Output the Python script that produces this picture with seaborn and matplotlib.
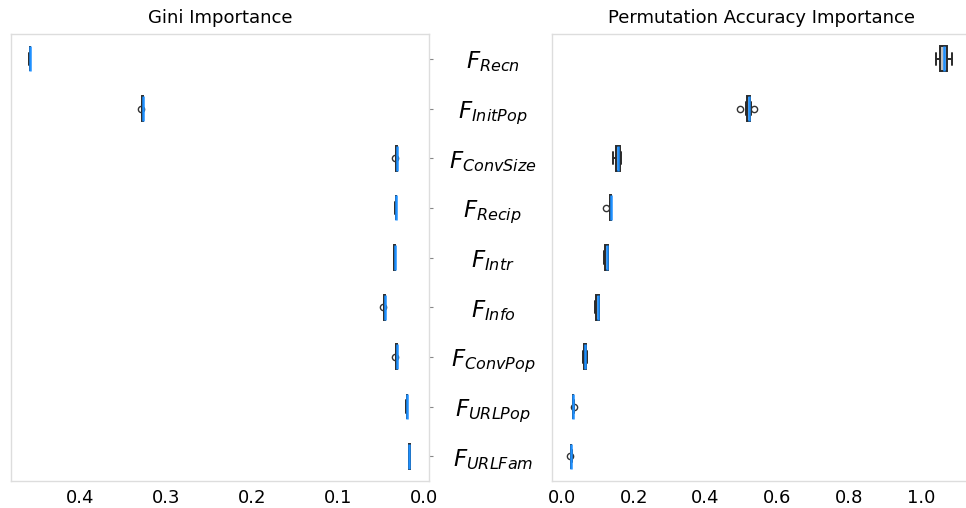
import pandas as pd
import matplotlib
matplotlib.use('Agg')
import matplotlib.pyplot as plt
import seaborn as sns

# признаки (сверху вниз)
features = ['Recn', 'InitPop', 'ConvSize', 'Recip', 'Intr', 'Info', 'ConvPop', 'URLPop', 'URLFam']
labels = [r'$F_{%s}$' % f for f in features]

# Gini importance, повторные прогоны
gini_recn = [0.4576, 0.4578, 0.4580, 0.4581, 0.4582, 0.4583, 0.4584, 0.4585, 0.4587, 0.4589]
gini_initpop = [0.3264, 0.3266, 0.3268, 0.3269, 0.3270, 0.3270, 0.3271, 0.3272, 0.3273, 0.3284]
gini_convsize = [0.0310, 0.0312, 0.0314, 0.0315, 0.0316, 0.0317, 0.0318, 0.0319, 0.0320, 0.0330]
gini_recip = [0.0322, 0.0323, 0.0324, 0.0325, 0.0326, 0.0326, 0.0327, 0.0328, 0.0329, 0.0330]
gini_intr = [0.0336, 0.0337, 0.0338, 0.0339, 0.0340, 0.0340, 0.0341, 0.0342, 0.0343, 0.0344]
gini_info = [0.0450, 0.0452, 0.0454, 0.0455, 0.0456, 0.0457, 0.0458, 0.0459, 0.0460, 0.0472]
gini_convpop = [0.0310, 0.0312, 0.0314, 0.0315, 0.0316, 0.0317, 0.0318, 0.0319, 0.0320, 0.0330]
gini_urlpop = [0.0194, 0.0195, 0.0196, 0.0197, 0.0198, 0.0198, 0.0199, 0.0200, 0.0201, 0.0202]
gini_urlfam = [0.0163, 0.0164, 0.0165, 0.0166, 0.0167, 0.0167, 0.0168, 0.0169, 0.0170, 0.0171]

# Permutation accuracy importance
perm_recn = [1.041, 1.045, 1.048, 1.058, 1.062, 1.066, 1.070, 1.073, 1.076, 1.085]
perm_initpop = [0.497, 0.513, 0.515, 0.518, 0.519, 0.521, 0.522, 0.523, 0.525, 0.534]
perm_convsize = [0.143, 0.148, 0.151, 0.153, 0.156, 0.158, 0.161, 0.163, 0.165, 0.166]
perm_recip = [0.124, 0.134, 0.135, 0.135, 0.136, 0.136, 0.137, 0.137, 0.138, 0.138]
perm_intr = [0.118, 0.120, 0.121, 0.123, 0.126, 0.127, 0.127, 0.128, 0.128, 0.129]
perm_info = [0.093, 0.095, 0.096, 0.098, 0.099, 0.101, 0.102, 0.103, 0.104, 0.105]
perm_convpop = [0.059, 0.060, 0.061, 0.063, 0.064, 0.065, 0.066, 0.067, 0.068, 0.069]
perm_urlpop = [0.0318, 0.0320, 0.0322, 0.0323, 0.0324, 0.0325, 0.0326, 0.0327, 0.0328, 0.0345]
perm_urlfam = [0.0240, 0.0265, 0.0267, 0.0268, 0.0269, 0.0270, 0.0271, 0.0272, 0.0273, 0.0275]

gini = [gini_recn, gini_initpop, gini_convsize, gini_recip, gini_intr,
        gini_info, gini_convpop, gini_urlpop, gini_urlfam]
perm = [perm_recn, perm_initpop, perm_convsize, perm_recip, perm_intr,
        perm_info, perm_convpop, perm_urlpop, perm_urlfam]


def to_long(groups):
    rows = []
    for lab, vals in zip(labels, groups):
        for v in vals:
            rows.append({'feature': lab, 'value': v})
    return pd.DataFrame(rows)


df_gini = to_long(gini)
df_perm = to_long(perm)

sns.set_style('white')
plt.rcParams['font.family'] = ['DejaVu Sans']
plt.rcParams['mathtext.fontset'] = 'dejavusans'
plt.rcParams['text.color'] = 'black'
plt.rcParams['xtick.labelcolor'] = 'black'
plt.rcParams['ytick.labelcolor'] = 'black'

fig = plt.figure(figsize=(9.66, 5.08), dpi=100)
W, H = 966, 508
ax1 = fig.add_axes([11 / W, (H - 481) / H, (429 - 11) / W, (481 - 34) / H])
ax2 = fig.add_axes([552 / W, (H - 481) / H, (970 - 552) / W, (481 - 34) / H])

box_kw = dict(orient='h', width=0.5, color='#c0c0c0', saturation=1, linecolor='#2a2a2a',
              linewidth=1.4, whis=1.5,
              medianprops=dict(color='#1e90ff', linewidth=1.8, solid_capstyle='butt'),
              flierprops=dict(marker='o', markersize=4.5, markerfacecolor='none',
                              markeredgecolor='#333333', markeredgewidth=1))

sns.boxplot(data=df_gini, x='value', y='feature', order=labels, ax=ax1, **box_kw)
sns.boxplot(data=df_perm, x='value', y='feature', order=labels, ax=ax2, **box_kw)

ax1.set_xlim(0.48, -0.006)
ax2.set_xlim(-0.027, 1.135)
ax1.set_xticks([0.4, 0.3, 0.2, 0.1, 0.0])
ax2.set_xticks([0.0, 0.2, 0.4, 0.6, 0.8, 1.0])

ax1.set_title('Gini Importance', fontsize=13, pad=8)
ax2.set_title('Permutation Accuracy Importance', fontsize=13, pad=8)

for ax in (ax1, ax2):
    ax.set_xlabel('')
    ax.set_ylabel('')
    for s in ax.spines.values():
        s.set_color('#dddddd')
        s.set_linewidth(1)
    ax.tick_params(axis='x', length=0, labelsize=13, pad=6)
    ax.tick_params(axis='y', length=3, color='#888888', width=0.8)

# подписи признаков по центру между панелями
ax1.yaxis.tick_right()
ax1.tick_params(axis='y', labelsize=16.5, pad=43)
for t in ax1.get_yticklabels():
    t.set_horizontalalignment('center')
ax2.set_yticklabels([])

fig.savefig('out.png', dpi=100)
